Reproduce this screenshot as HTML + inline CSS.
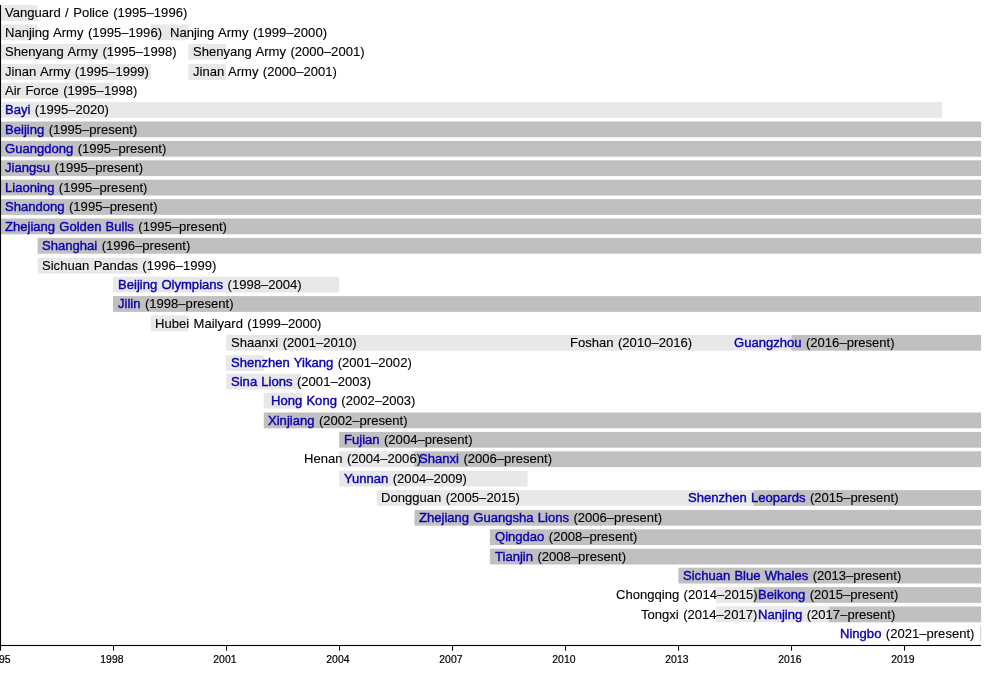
<!DOCTYPE html>
<html lang="en"><head><meta charset="utf-8"><title>CBA teams timeline</title>
<style>
html,body{margin:0;padding:0;background:#fff;}
body{width:1000px;height:695px;position:relative;overflow:hidden;font-family:"Liberation Sans",Arial,Helvetica,sans-serif;}
.b{position:absolute;height:15.8px;}
.t{position:absolute;white-space:pre;font-size:13.07px;line-height:16px;color:#000;word-spacing:0.8px;-webkit-text-stroke:0.12px;transform:scaleY(1.04);transform-origin:0 12.5px;}
.t a{color:#0c00b0;text-decoration:none;word-spacing:0.55px;-webkit-text-stroke:0.4px;}
.ax{position:absolute;background:#000;}
.yl{position:absolute;font-size:10.4px;line-height:12px;color:#000;width:40px;text-align:center;top:654.2px;-webkit-text-stroke:0.2px;transform:scaleY(1.04);transform-origin:0 10px;}
</style></head><body>

<svg width="1000" height="695" viewBox="0 0 1000 695" style="position:absolute;left:0;top:0">
<rect x="-0.05" y="5.10" width="37.69" height="15.80" fill="#e8e8e8"/>
<rect x="-0.05" y="24.50" width="37.69" height="15.80" fill="#e8e8e8"/>
<rect x="150.71" y="24.50" width="37.69" height="15.80" fill="#e8e8e8"/>
<rect x="-0.05" y="43.90" width="113.07" height="15.80" fill="#e8e8e8"/>
<rect x="188.40" y="43.90" width="37.69" height="15.80" fill="#e8e8e8"/>
<rect x="-0.05" y="64.10" width="150.76" height="15.80" fill="#e8e8e8"/>
<rect x="188.40" y="64.10" width="37.69" height="15.80" fill="#e8e8e8"/>
<rect x="-0.05" y="82.70" width="113.07" height="15.80" fill="#e8e8e8"/>
<rect x="-0.05" y="102.10" width="942.25" height="15.80" fill="#e8e8e8"/>
<rect x="-0.05" y="121.50" width="981.15" height="15.80" fill="#c0c0c0"/>
<rect x="-0.05" y="140.90" width="981.15" height="15.80" fill="#c0c0c0"/>
<rect x="-0.05" y="160.30" width="981.15" height="15.80" fill="#c0c0c0"/>
<rect x="-0.05" y="179.70" width="981.15" height="15.80" fill="#c0c0c0"/>
<rect x="-0.05" y="199.10" width="981.15" height="15.80" fill="#c0c0c0"/>
<rect x="-0.05" y="218.50" width="981.15" height="15.80" fill="#c0c0c0"/>
<rect x="37.64" y="237.90" width="943.46" height="15.80" fill="#c0c0c0"/>
<rect x="37.64" y="257.80" width="113.07" height="15.80" fill="#e8e8e8"/>
<rect x="113.02" y="276.70" width="226.14" height="15.80" fill="#e8e8e8"/>
<rect x="113.02" y="296.10" width="868.08" height="15.80" fill="#c0c0c0"/>
<rect x="150.71" y="315.50" width="37.69" height="15.80" fill="#e8e8e8"/>
<rect x="226.09" y="334.90" width="340.21" height="15.80" fill="#e8e8e8"/>
<rect x="565.30" y="334.90" width="227.14" height="15.80" fill="#e8e8e8"/>
<rect x="791.44" y="334.90" width="189.66" height="15.80" fill="#c0c0c0"/>
<rect x="226.09" y="355.20" width="37.69" height="15.80" fill="#e8e8e8"/>
<rect x="226.09" y="373.70" width="75.38" height="15.80" fill="#e8e8e8"/>
<rect x="263.78" y="392.70" width="37.69" height="15.80" fill="#e8e8e8"/>
<rect x="263.78" y="412.50" width="717.32" height="15.80" fill="#c0c0c0"/>
<rect x="339.16" y="431.90" width="641.94" height="15.80" fill="#c0c0c0"/>
<rect x="339.16" y="451.30" width="76.38" height="15.80" fill="#e8e8e8"/>
<rect x="414.54" y="451.30" width="566.56" height="15.80" fill="#c0c0c0"/>
<rect x="339.16" y="470.70" width="188.45" height="15.80" fill="#e8e8e8"/>
<rect x="376.85" y="490.10" width="377.90" height="15.80" fill="#e8e8e8"/>
<rect x="753.75" y="490.10" width="227.35" height="15.80" fill="#c0c0c0"/>
<rect x="414.54" y="509.90" width="566.56" height="15.80" fill="#c0c0c0"/>
<rect x="489.92" y="529.30" width="491.18" height="15.80" fill="#c0c0c0"/>
<rect x="489.92" y="548.70" width="491.18" height="15.80" fill="#c0c0c0"/>
<rect x="678.37" y="567.70" width="302.73" height="15.80" fill="#c0c0c0"/>
<rect x="716.06" y="587.10" width="38.69" height="15.80" fill="#e8e8e8"/>
<rect x="753.75" y="587.10" width="227.35" height="15.80" fill="#c0c0c0"/>
<rect x="716.06" y="606.50" width="114.07" height="15.80" fill="#e8e8e8"/>
<rect x="829.13" y="606.50" width="151.97" height="15.80" fill="#c0c0c0"/>
<rect x="979.89" y="625.90" width="0.00" height="15.80" fill="#e8e8e8"/>
<rect x="980.1" y="625.90" width="1.1" height="15.80" fill="#d4d4d4"/>
<rect x="0" y="5" width="1.05" height="641" fill="#000"/>
<rect x="0" y="644.95" width="980.9" height="1.1" fill="#000"/>
<rect x="0.00" y="645.5" width="1.05" height="5.1" fill="#000"/>
<rect x="113.00" y="645.5" width="1.05" height="5.1" fill="#000"/>
<rect x="226.00" y="645.5" width="1.05" height="5.1" fill="#000"/>
<rect x="339.00" y="645.5" width="1.05" height="5.1" fill="#000"/>
<rect x="452.00" y="645.5" width="1.05" height="5.1" fill="#000"/>
<rect x="565.00" y="645.5" width="1.05" height="5.1" fill="#000"/>
<rect x="678.00" y="645.5" width="1.05" height="5.1" fill="#000"/>
<rect x="791.00" y="645.5" width="1.05" height="5.1" fill="#000"/>
<rect x="904.00" y="645.5" width="1.05" height="5.1" fill="#000"/>
</svg>
<div class="t" style="left:5.00px;top:5.20px">Vanguard / Police (1995–1996)</div>
<div class="t" style="left:5.00px;top:24.60px">Nanjing Army (1995–1996)</div>
<div class="t" style="left:170.00px;top:24.60px">Nanjing Army (1999–2000)</div>
<div class="t" style="left:5.00px;top:44.00px">Shenyang Army (1995–1998)</div>
<div class="t" style="left:193.00px;top:44.00px">Shenyang Army (2000–2001)</div>
<div class="t" style="left:5.00px;top:64.20px">Jinan Army (1995–1999)</div>
<div class="t" style="left:193.00px;top:64.20px">Jinan Army (2000–2001)</div>
<div class="t" style="left:5.00px;top:82.80px">Air Force (1995–1998)</div>
<div class="t" style="left:5.00px;top:102.20px"><a href="#">Bayi</a> (1995–2020)</div>
<div class="t" style="left:5.00px;top:121.60px"><a href="#">Beijing</a> (1995–present)</div>
<div class="t" style="left:5.00px;top:141.00px"><a href="#">Guangdong</a> (1995–present)</div>
<div class="t" style="left:5.00px;top:160.40px"><a href="#">Jiangsu</a> (1995–present)</div>
<div class="t" style="left:5.00px;top:179.80px"><a href="#">Liaoning</a> (1995–present)</div>
<div class="t" style="left:5.00px;top:199.20px"><a href="#">Shandong</a> (1995–present)</div>
<div class="t" style="left:5.00px;top:218.60px"><a href="#">Zhejiang Golden Bulls</a> (1995–present)</div>
<div class="t" style="left:42.00px;top:238.00px"><a href="#">Shanghai</a> (1996–present)</div>
<div class="t" style="left:42.00px;top:257.90px">Sichuan Pandas (1996–1999)</div>
<div class="t" style="left:118.00px;top:276.80px"><a href="#">Beijing Olympians</a> (1998–2004)</div>
<div class="t" style="left:118.00px;top:296.20px"><a href="#">Jilin</a> (1998–present)</div>
<div class="t" style="left:155.00px;top:315.60px">Hubei Mailyard (1999–2000)</div>
<div class="t" style="left:231.00px;top:335.00px">Shaanxi (2001–2010)</div>
<div class="t" style="left:570.00px;top:335.00px">Foshan (2010–2016)</div>
<div class="t" style="left:734.00px;top:335.00px"><a href="#">Guangzhou</a> (2016–present)</div>
<div class="t" style="left:231.00px;top:355.30px"><a href="#">Shenzhen Yikang</a> (2001–2002)</div>
<div class="t" style="left:231.00px;top:373.80px"><a href="#">Sina Lions</a> (2001–2003)</div>
<div class="t" style="left:271.00px;top:392.80px"><a href="#">Hong Kong</a> (2002–2003)</div>
<div class="t" style="left:268.00px;top:412.60px"><a href="#">Xinjiang</a> (2002–present)</div>
<div class="t" style="left:344.00px;top:432.00px"><a href="#">Fujian</a> (2004–present)</div>
<div class="t" style="left:304.00px;top:451.40px">Henan (2004–2006)</div>
<div class="t" style="left:419.00px;top:451.40px"><a href="#">Shanxi</a> (2006–present)</div>
<div class="t" style="left:344.00px;top:470.80px"><a href="#">Yunnan</a> (2004–2009)</div>
<div class="t" style="left:381.00px;top:490.20px">Dongguan (2005–2015)</div>
<div class="t" style="left:688.00px;top:490.20px"><a href="#">Shenzhen Leopards</a> (2015–present)</div>
<div class="t" style="left:419.00px;top:510.00px"><a href="#">Zhejiang Guangsha Lions</a> (2006–present)</div>
<div class="t" style="left:495.00px;top:529.40px"><a href="#">Qingdao</a> (2008–present)</div>
<div class="t" style="left:495.00px;top:548.80px"><a href="#">Tianjin</a> (2008–present)</div>
<div class="t" style="left:683.00px;top:567.80px"><a href="#">Sichuan Blue Whales</a> (2013–present)</div>
<div class="t" style="left:616.00px;top:587.20px">Chongqing (2014–2015)</div>
<div class="t" style="left:758.00px;top:587.20px"><a href="#">Beikong</a> (2015–present)</div>
<div class="t" style="left:641.00px;top:606.60px">Tongxi (2014–2017)</div>
<div class="t" style="left:758.00px;top:606.60px"><a href="#">Nanjing</a> (2017–present)</div>
<div class="t" style="left:840.00px;top:626.00px"><a href="#">Ningbo</a> (2021–present)</div>
<div class="yl" style="left:-21.10px">1995</div>
<div class="yl" style="left:91.90px">1998</div>
<div class="yl" style="left:204.90px">2001</div>
<div class="yl" style="left:317.90px">2004</div>
<div class="yl" style="left:430.90px">2007</div>
<div class="yl" style="left:543.90px">2010</div>
<div class="yl" style="left:656.90px">2013</div>
<div class="yl" style="left:769.90px">2016</div>
<div class="yl" style="left:882.90px">2019</div>
</body></html>
